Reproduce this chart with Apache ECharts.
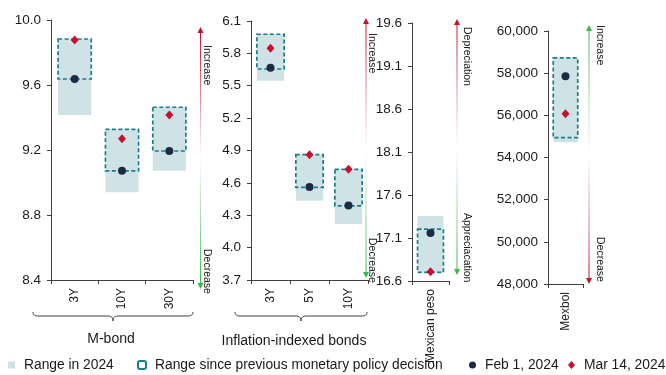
<!DOCTYPE html>
<html>
<head>
<meta charset="utf-8">
<script src="https://cdn.jsdelivr.net/npm/echarts@6/dist/echarts.min.js"></script>
<style>
  html, body { margin: 0; padding: 0; background: #fff; }
  #chart { width: 666px; height: 375px; }
</style>
</head>
<body>
<div id="chart"></div>
<script>
// ---- M-bond yields (%) ----
const mbondTenors = ['3Y', '10Y', '30Y'];
const mbondYearLow = [9.415, 8.94, 9.073];
const mbondYearHigh = [9.883, 9.327, 9.463];
const mbondSinceLow = [9.637, 9.071, 9.194];
const mbondSinceHigh = [9.883, 9.327, 9.463];
const mbondFeb1 = [9.637, 9.073, 9.194];
const mbondMar14 = [9.877, 9.27, 9.415];
const mbondAxis = [8.4, 10.0, 0.4];

// ---- Inflation-indexed bonds (%) ----
const udiTenors = ['3Y', '5Y', '10Y'];
const udiYearLow = [5.547, 4.435, 4.219];
const udiYearHigh = [5.977, 4.861, 4.726];
const udiSinceLow = [5.655, 4.559, 4.386];
const udiSinceHigh = [5.977, 4.861, 4.726];
const udiFeb1 = [5.667, 4.562, 4.39];
const udiMar14 = [5.847, 4.861, 4.726];
const udiAxis = [3.7, 6.1, 0.3];

// ---- Mexican peso (MXN per USD) ----
const pesoCats = ['Mexican peso'];
const pesoYearLow = [16.70];
const pesoYearHigh = [17.355];
const pesoSinceLow = [16.70];
const pesoSinceHigh = [17.204];
const pesoFeb1 = [17.157];
const pesoMar14 = [16.708];
const pesoAxis = [16.6, 19.6, 0.5];

// ---- Mexbol index (points) ----
const mexbolCats = ['Mexbol'];
const mexbolYearLow = [54721];
const mexbolYearHigh = [58723];
const mexbolSinceLow = [54939];
const mexbolSinceHigh = [58723];
const mexbolFeb1 = [57857];
const mexbolMar14 = [56074];
const mexbolAxis = [48000, 60000, 2000];

const FONT = 'Liberation Sans, Arial, sans-serif';
const LIGHT = '#cfe3e7';
const TEAL = '#1b7d89';
const NAVY = '#1d2a45';
const RED = '#c8102e';
const GREEN = '#3cb84a';
const AXIS = '#404040';
const TEXT = '#1a1a1a';

const chart = echarts.init(document.getElementById('chart'), null, { renderer: 'canvas' });

// panel layout in pixels: [left, top, width, height]
const grids = [
  [51, 20, 142, 260],
  [251, 21, 117, 259],
  [412, 23, 37, 258],
  [548, 31, 35, 253]
];

const panels = [
  { cats: mbondTenors, axis: mbondAxis, yl: mbondYearLow, yh: mbondYearHigh, sl: mbondSinceLow, sh: mbondSinceHigh, f: mbondFeb1, m: mbondMar14, fmt: v => v.toFixed(1) },
  { cats: udiTenors, axis: udiAxis, yl: udiYearLow, yh: udiYearHigh, sl: udiSinceLow, sh: udiSinceHigh, f: udiFeb1, m: udiMar14, fmt: v => v.toFixed(1) },
  { cats: pesoCats, axis: pesoAxis, yl: pesoYearLow, yh: pesoYearHigh, sl: pesoSinceLow, sh: pesoSinceHigh, f: pesoFeb1, m: pesoMar14, fmt: v => v.toFixed(1) },
  { cats: mexbolCats, axis: mexbolAxis, yl: mexbolYearLow, yh: mexbolYearHigh, sl: mexbolSinceLow, sh: mexbolSinceHigh, f: mexbolFeb1, m: mexbolMar14, fmt: v => Math.round(v).toLocaleString('en-US') }
];

function rangeSeries(name, idx, lows, highs, dashed) {
  return {
    type: 'custom',
    name: name,
    xAxisIndex: idx,
    yAxisIndex: idx,
    silent: true,
    z: dashed ? 3 : 1,
    itemStyle: { color: dashed ? TEAL : LIGHT },
    data: lows.map((lo, i) => [i, lo, highs[i]]),
    encode: { x: 0, y: [1, 2] },
    renderItem: function (params, api) {
      const i = api.value(0);
      const a = api.coord([i, api.value(1)]);
      const b = api.coord([i, api.value(2)]);
      const w = api.size([1, 0])[0] * 0.7;
      return {
        type: 'rect',
        shape: { x: a[0] - w / 2, y: b[1], width: w, height: a[1] - b[1] },
        style: dashed
          ? { fill: 'transparent', stroke: TEAL, lineWidth: 1.7, lineDash: [4, 2.5] }
          : { fill: LIGHT }
      };
    }
  };
}

const gridOpt = [], xAxes = [], yAxes = [], series = [];
panels.forEach((p, k) => {
  const g = grids[k];
  gridOpt.push({ left: g[0], top: g[1], width: g[2], height: g[3], outerBoundsMode: 'none' });
  xAxes.push({
    type: 'category', gridIndex: k, data: p.cats,
    axisLine: { show: true, lineStyle: { color: AXIS, width: 1 } },
    axisTick: { show: true, length: 4, lineStyle: { color: AXIS } },
    axisLabel: { rotate: 90, fontSize: 12, color: TEXT, fontFamily: FONT, margin: 8 }
  });
  yAxes.push({
    type: 'value', gridIndex: k, min: p.axis[0], max: p.axis[1], interval: p.axis[2],
    splitLine: { show: false },
    axisLine: { show: true, lineStyle: { color: AXIS, width: 1 } },
    axisTick: { show: true, length: 4, lineStyle: { color: AXIS } },
    axisLabel: { fontSize: 13.5, color: TEXT, fontFamily: FONT, margin: 10, formatter: p.fmt }
  });
  series.push(rangeSeries('Range in 2024', k, p.yl, p.yh, false));
  series.push(rangeSeries('Range since previous monetary policy decision', k, p.sl, p.sh, true));
  series.push({
    type: 'scatter', name: 'Feb 1, 2024', xAxisIndex: k, yAxisIndex: k, z: 5,
    symbol: 'circle', symbolSize: 8, itemStyle: { color: NAVY, opacity: 1 }, data: p.f
  });
  series.push({
    type: 'scatter', name: 'Mar 14, 2024', xAxisIndex: k, yAxisIndex: k, z: 6,
    symbol: 'diamond', symbolSize: [8, 9], itemStyle: { color: RED, opacity: 1 }, data: p.m
  });
});

// direction arrows with fading gradient shafts
function arrow(x, yTop, yBot, topColor, botColor) {
  return [
    {
      type: 'rect', silent: true,
      shape: { x: x - 0.5, y: yTop + 5, width: 1, height: yBot - yTop - 10 },
      style: {
        fill: new echarts.graphic.LinearGradient(0, 0, 0, 1, [
          { offset: 0, color: topColor },
          { offset: 0.5, color: '#ffffff' },
          { offset: 1, color: botColor }
        ])
      }
    },
    { type: 'polygon', silent: true, shape: { points: [[x, yTop], [x - 3, yTop + 6], [x + 3, yTop + 6]] }, style: { fill: topColor } },
    { type: 'polygon', silent: true, shape: { points: [[x, yBot], [x - 3, yBot - 6], [x + 3, yBot - 6]] }, style: { fill: botColor } }
  ];
}

function vText(x, y, text) {
  return {
    type: 'text', silent: true, x: x, y: y, rotation: -Math.PI / 2,
    style: { text: text, fontSize: 10.5, fontFamily: FONT, fill: TEXT, align: 'left', verticalAlign: 'middle' }
  };
}

// curly brace under a group of categories, traced as a polyline
function brace(x1, x2, y) {
  const c = (x1 + x2) / 2;
  const pts = [];
  const quad = (p0, p1, p2) => {
    for (let t = 0; t <= 1.0001; t += 0.125) {
      const u = 1 - t;
      pts.push([u * u * p0[0] + 2 * u * t * p1[0] + t * t * p2[0], u * u * p0[1] + 2 * u * t * p1[1] + t * t * p2[1]]);
    }
  };
  quad([x1, y - 4], [x1, y], [x1 + 5, y]);
  quad([c - 5, y], [c, y], [c, y + 5]);
  quad([c, y + 5], [c, y], [c + 5, y]);
  quad([x2 - 5, y], [x2, y], [x2, y - 4]);
  return { type: 'polyline', silent: true, shape: { points: pts }, style: { stroke: AXIS, lineWidth: 1, fill: null } };
}

const graphics = [].concat(
  arrow(200.5, 27, 289, RED, GREEN),
  arrow(366, 18, 278, RED, GREEN),
  arrow(457, 19, 275, RED, GREEN),
  arrow(589, 25, 284, GREEN, RED),
  [
    vText(207, 45, 'Increase'), vText(207, 249, 'Decrease'),
    vText(372, 33, 'Increase'), vText(372, 238, 'Decrease'),
    vText(467, 27, 'Depreciation'), vText(467, 213, 'Appreciacation'),
    vText(600, 25, 'Increase'), vText(600, 237, 'Decrease'),
    brace(33, 193, 316),
    brace(235, 367, 316),
    { type: 'text', silent: true, x: 111, y: 339, style: { text: 'M-bond', fontSize: 14, fontFamily: FONT, fill: TEXT, align: 'center', verticalAlign: 'middle' } },
    { type: 'text', silent: true, x: 294, y: 341, style: { text: 'Inflation-indexed bonds', fontSize: 14, fontFamily: FONT, fill: TEXT, align: 'center', verticalAlign: 'middle' } }
  ]
);

const legendText = { fontSize: 13.8, fontFamily: FONT, color: TEXT, padding: [0, 0, 0, 4] };
const legends = [
  { left: 8, data: [{ name: 'Range in 2024', icon: 'rect', itemStyle: { color: LIGHT } }], itemWidth: 7, itemHeight: 7 },
  { left: 137, data: [{ name: 'Range since previous monetary policy decision', icon: 'roundRect', itemStyle: { color: '#ffffff', borderColor: TEAL, borderWidth: 2 } }], itemWidth: 8, itemHeight: 8 },
  { left: 469, data: [{ name: 'Feb 1, 2024', icon: 'circle', itemStyle: { color: NAVY } }], itemWidth: 7, itemHeight: 7 },
  { left: 568, data: [{ name: 'Mar 14, 2024', icon: 'diamond', itemStyle: { color: RED } }], itemWidth: 7, itemHeight: 8 }
].map(l => Object.assign({ top: 358, padding: 0, textStyle: legendText, selectedMode: false }, l));

chart.setOption({
  animation: false,
  backgroundColor: '#ffffff',
  textStyle: { fontFamily: FONT },
  grid: gridOpt,
  xAxis: xAxes,
  yAxis: yAxes,
  series: series,
  legend: legends,
  graphic: graphics
});
</script>
</body>
</html>
